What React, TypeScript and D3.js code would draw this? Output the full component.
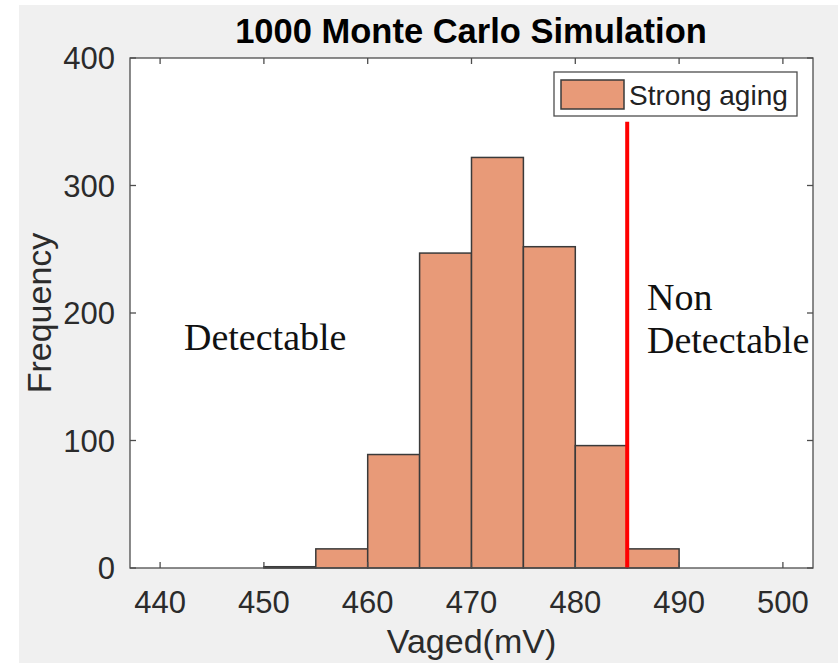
import React, { useEffect, useRef } from 'react';
import * as d3 from 'd3';

// histogram bins (left edge, mV) and counts
const binStarts = [450, 455, 460, 465, 470, 475, 480, 485];
const binCounts = [1, 15, 89, 247, 322, 252, 96, 15];
const binWidth = 5;

const xTicks = [440, 450, 460, 470, 480, 490, 500];
const yTicks = [0, 100, 200, 300, 400];

const thresholdValue = 485;
const thresholdTop = 350;

const title = '1000 Monte Carlo Simulation';
const xLabel = 'Vaged(mV)';
const yLabel = 'Frequency';
const legendLabel = 'Strong aging';

const sans = '"Liberation Sans", Arial, Helvetica, sans-serif';
const serif = '"Liberation Serif", "Times New Roman", serif';

const App: React.FC = () => {
  const svgRef = useRef<SVGSVGElement>(null);

  useEffect(() => {
    if (!svgRef.current) return;
    const root = d3.select(svgRef.current);
    root.selectAll('*').remove();

    const W = 838;
    const H = 663;
    const margin = { top: 58, right: 25, bottom: 95, left: 130 };
    const width = W - margin.left - margin.right;
    const height = H - margin.top - margin.bottom;

    root.attr('width', W).attr('height', H).attr('viewBox', `0 0 ${W} ${H}`);

    // figure background
    root.append('rect').attr('width', W).attr('height', H).attr('fill', '#ffffff');
    root.append('rect').attr('x', 19).attr('y', 5).attr('width', W - 19).attr('height', H - 5).attr('fill', '#f0f0f0');

    const g = root.append('g').attr('transform', `translate(${margin.left},${margin.top})`);

    const x = d3.scaleLinear().domain([437.1, 502.9]).range([0, width]);
    const y = d3.scaleLinear().domain([0, 400]).range([height, 0]);

    // axes box
    g.append('rect').attr('width', width).attr('height', height).attr('fill', '#ffffff');

    // bars
    const bins = binStarts.map((s, i) => ({ x0: s, x1: s + binWidth, count: binCounts[i] }));
    g.selectAll('.bar')
      .data(bins)
      .enter()
      .append('rect')
      .attr('class', 'bar')
      .attr('x', d => x(d.x0))
      .attr('width', d => x(d.x1) - x(d.x0))
      .attr('y', d => y(d.count))
      .attr('height', d => y(0) - y(d.count))
      .attr('fill', '#e89a78')
      .attr('stroke', '#3a3a3a')
      .attr('stroke-width', 1.5);

    // threshold line
    g.append('line')
      .attr('x1', x(thresholdValue))
      .attr('x2', x(thresholdValue))
      .attr('y1', y(0))
      .attr('y2', y(thresholdTop))
      .attr('stroke', '#ff0000')
      .attr('stroke-width', 4);

    // box outline
    g.append('rect')
      .attr('width', width)
      .attr('height', height)
      .attr('fill', 'none')
      .attr('stroke', '#4d4d4d')
      .attr('stroke-width', 1.3);

    const tickLen = 6;
    // x ticks (bottom and top, inward)
    xTicks.forEach(t => {
      g.append('line').attr('x1', x(t)).attr('x2', x(t)).attr('y1', height).attr('y2', height - tickLen)
        .attr('stroke', '#4d4d4d').attr('stroke-width', 1.3);
      g.append('line').attr('x1', x(t)).attr('x2', x(t)).attr('y1', 0).attr('y2', tickLen)
        .attr('stroke', '#4d4d4d').attr('stroke-width', 1.3);
      g.append('text')
        .attr('x', x(t))
        .attr('y', height + 45)
        .attr('text-anchor', 'middle')
        .attr('font-family', sans)
        .attr('font-size', 31)
        .attr('fill', '#2b2b2b')
        .text(t);
    });

    // y ticks (left and right, inward)
    yTicks.forEach(t => {
      g.append('line').attr('x1', 0).attr('x2', tickLen).attr('y1', y(t)).attr('y2', y(t))
        .attr('stroke', '#4d4d4d').attr('stroke-width', 1.3);
      g.append('line').attr('x1', width).attr('x2', width - tickLen).attr('y1', y(t)).attr('y2', y(t))
        .attr('stroke', '#4d4d4d').attr('stroke-width', 1.3);
      g.append('text')
        .attr('x', -15)
        .attr('y', y(t))
        .attr('dy', '0.36em')
        .attr('text-anchor', 'end')
        .attr('font-family', sans)
        .attr('font-size', 31)
        .attr('fill', '#2b2b2b')
        .text(t);
    });

    // axis labels
    g.append('text')
      .attr('x', x(470))
      .attr('y', height + 85)
      .attr('text-anchor', 'middle')
      .attr('font-family', sans)
      .attr('font-size', 34)
      .attr('fill', '#2b2b2b')
      .text(xLabel);

    g.append('text')
      .attr('transform', `translate(${51 - margin.left},${height / 2}) rotate(-90)`)
      .attr('text-anchor', 'middle')
      .attr('font-family', sans)
      .attr('font-size', 34)
      .attr('fill', '#2b2b2b')
      .text(yLabel);

    // title
    root.append('text')
      .attr('x', 471)
      .attr('y', 43)
      .attr('text-anchor', 'middle')
      .attr('font-family', sans)
      .attr('font-weight', 'bold')
      .attr('font-size', 34.5)
      .attr('fill', '#000000')
      .text(title);

    // region annotations
    g.append('text')
      .attr('x', 184 - margin.left)
      .attr('y', 350 - margin.top)
      .attr('font-family', serif)
      .attr('font-size', 38)
      .attr('fill', '#111111')
      .text('Detectable');

    const nd = g.append('text')
      .attr('x', 647 - margin.left)
      .attr('y', 310 - margin.top)
      .attr('font-family', serif)
      .attr('font-size', 38)
      .attr('fill', '#111111');
    nd.append('tspan').attr('x', 647 - margin.left).text('Non');
    nd.append('tspan').attr('x', 647 - margin.left).attr('dy', 43).text('Detectable');

    // legend
    const lg = root.append('g').attr('transform', 'translate(554,72)');
    lg.append('rect').attr('width', 243).attr('height', 44)
      .attr('fill', '#ffffff').attr('stroke', '#4d4d4d').attr('stroke-width', 1.3);
    lg.append('rect').attr('x', 7).attr('y', 8).attr('width', 63).attr('height', 29)
      .attr('fill', '#e89a78').attr('stroke', '#3a3a3a').attr('stroke-width', 1.5);
    lg.append('text')
      .attr('x', 75)
      .attr('y', 33)
      .attr('font-family', sans)
      .attr('font-size', 28)
      .attr('fill', '#222222')
      .text(legendLabel);
  }, []);

  return (
    <div style={{ position: 'absolute', left: 0, top: 0 }}>
      <svg ref={svgRef} style={{ display: 'block' }}></svg>
    </div>
  );
};

export default App;
